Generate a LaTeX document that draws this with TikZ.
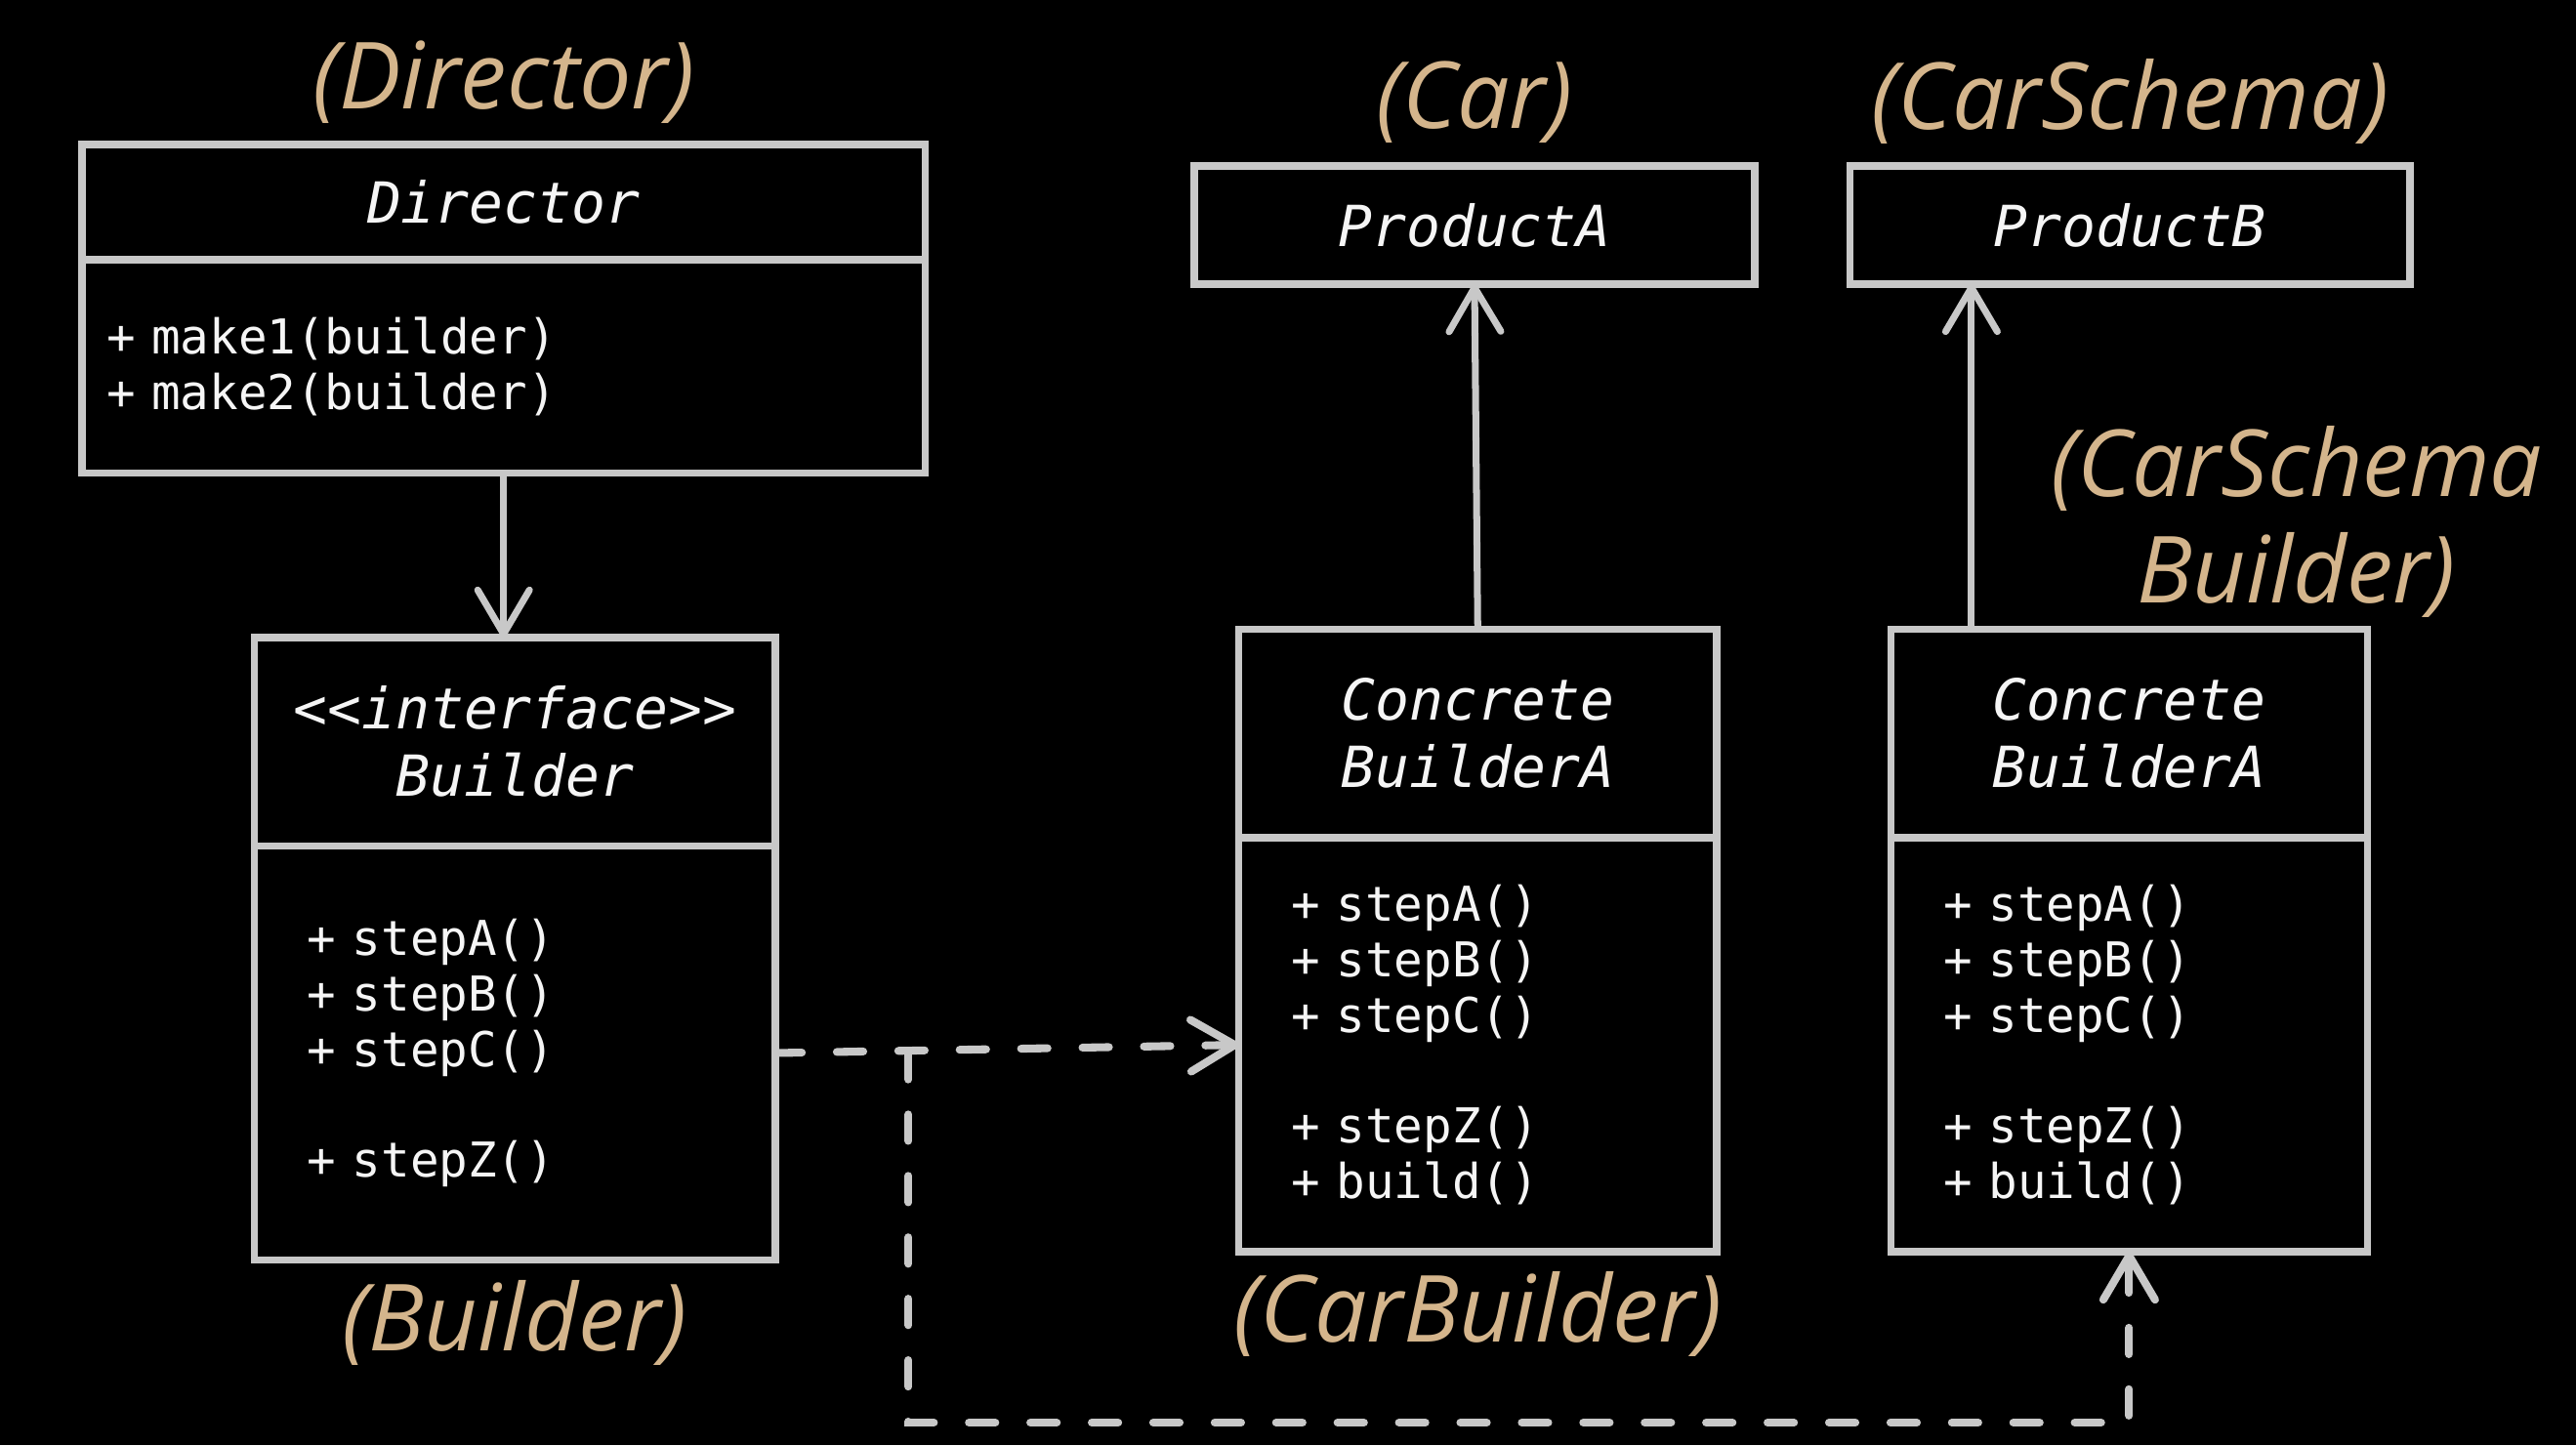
\documentclass[tikz,border=0pt]{standalone}
\usepackage{fontspec}
\setmonofont{DejaVu Sans Mono}
\newfontfamily\tagfont{Open Sans}
\usetikzlibrary{arrows.meta, positioning}
\definecolor{edge}{RGB}{200,200,200}
\definecolor{tagtan}{RGB}{212,181,140}
\definecolor{ink}{RGB}{245,245,245}

\begin{document}
\begin{tikzpicture}[
    node distance=0pt,
    head/.style={draw=edge, line width=2.1pt, outer sep=0pt, inner sep=0pt, text=ink,
                 align=center, font=\ttfamily\itshape\fontsize{16.5}{19.6}\selectfont},
    body/.style={draw=edge, line width=2.1pt, outer sep=0pt, inner ysep=0pt, text=ink,
                 align=left, font=\ttfamily\fontsize{14}{16.2}\selectfont},
    tag/.style={text=tagtan, align=center, font=\tagfont\itshape\fontsize{27}{31}\selectfont},
    arrow/.style={-{Straight Barb[length=0.45cm, width=0.53cm, round]}, line width=2pt,
                  line cap=round, edge},
    dasharrow/.style={arrow, line width=2.3pt, dash pattern=on 7.7pt off 10.2pt}
]
\fill[black] (0,0) rectangle (26.38,-14.80);
\useasboundingbox (0,0) rectangle (26.38,-14.80);

% Director
\node[head, anchor=north, minimum width=8.631cm, minimum height=1.178cm] (dirT)
    at (5.157,-1.480) {Director};
\node[body, below=of dirT, inner xsep=0.25cm, text width=8.131cm, minimum height=2.187cm] (dirB)
    {+ make1(builder)\\+ make2(builder)};

% Builder interface
\node[head, anchor=north, minimum width=5.333cm, minimum height=2.137cm] (bldT)
    at (5.274,-6.528) {<<interface>>\\Builder};
\node[body, below=of bldT, inner xsep=0.54cm, text width=4.253cm, minimum height=4.240cm] (bldB)
    {+ stepA()\\+ stepB()\\+ stepC()\\[16.2pt]+ stepZ()};

% Products
\node[head, minimum width=5.737cm, minimum height=1.211cm] (prodA) at (15.100,-2.305) {ProductA};
\node[head, minimum width=5.737cm, minimum height=1.211cm] (prodB) at (21.812,-2.305) {ProductB};

% Concrete builders
\node[head, anchor=north, minimum width=4.896cm, minimum height=2.137cm] (caT)
    at (15.133,-6.444) {Concrete\\BuilderA};
\node[body, below=of caT, inner xsep=0.54cm, text width=3.816cm, minimum height=4.240cm] (caB)
    {+ stepA()\\+ stepB()\\+ stepC()\\[16.2pt]+ stepZ()\\+ build()};
\node[head, anchor=north, minimum width=4.879cm, minimum height=2.137cm] (cbT)
    at (21.804,-6.444) {Concrete\\BuilderA};
\node[body, below=of cbT, inner xsep=0.54cm, text width=3.799cm, minimum height=4.240cm] (cbB)
    {+ stepA()\\+ stepB()\\+ stepC()\\[16.2pt]+ stepZ()\\+ build()};

% Tags
\node[tag] (dirTag) at ([yshift=0.64cm]dirT.north) {(Director)};
\node[tag] (bldTag) at ([yshift=-0.64cm]bldB.south) {(Builder)};
\node[tag] (carTag) at ([yshift=0.656cm]prodA.north) {(Car)};
\node[tag] (schemaTag) at ([yshift=0.656cm]prodB.north) {(CarSchema)};
\node[tag] (caTag) at ([yshift=-0.64cm]caB.south) {(CarBuilder)};
\node[tag] (cbTag) at ([xshift=1.716cm, yshift=1.102cm]cbT.north) {(CarSchema\\Builder)};

% Connectors
\coordinate (cbFoot) at ([xshift=-1.615cm]cbT.north);
\coordinate (split) at ([xshift=1.363cm]bldB.east);
\coordinate (floor) at (0,-14.57);

\draw[arrow] (dirB.south) -- (dirB.south |- bldT.north);
\draw[arrow] (caT.north) -- (prodA.south);
\draw[arrow] (cbFoot) -- (cbFoot |- prodB.south);
\draw[dasharrow] (bldB.east) -- (caB.west);
\draw[dasharrow] (split) -- (split |- floor) -| (cbB.south);

\end{tikzpicture}
\end{document}
